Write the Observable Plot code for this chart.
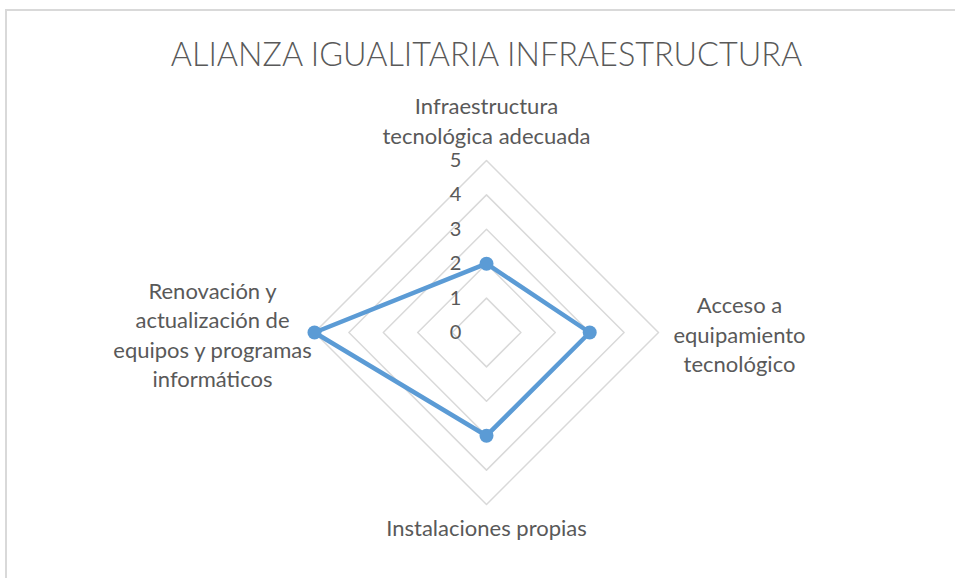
<!DOCTYPE html>
<html>
<head>
<meta charset="utf-8">
<script src="https://cdn.jsdelivr.net/npm/d3@7"></script>
<script src="https://cdn.jsdelivr.net/npm/@observablehq/plot@0.6"></script>
<style>
  html, body { margin: 0; padding: 0; background: #fff; }
  #wrap { position: relative; width: 955px; height: 578px; overflow: hidden; }
  #border { position: absolute; left: 5px; top: 9px; width: 1200px; height: 800px;
            border-left: 2px solid #d9d9d9; border-top: 2px solid #d9d9d9; }
  #chart { position: absolute; left: 0; top: 0; }
</style>
</head>
<body>
<div id="wrap"><div id="border"></div><div id="chart"></div></div>
<script>
const title = "ALIANZA IGUALITARIA INFRAESTRUCTURA";
const categories = [
  "Infraestructura\ntecnológica adecuada",
  "Acceso a\nequipamiento\ntecnológico",
  "Instalaciones propias",
  "Renovación y\nactualización de\nequipos y programas\ninformáticos"
];
const values = [2, 3, 3, 5];
const ticks = [0, 1, 2, 3, 4, 5];
const maxValue = 5;

const W = 955, H = 578;
const cx = 486, cy = 332, unit = 34.4;   // layout of the plot area in pixels

const n = categories.length;
const angle = i => (2 * Math.PI * i) / n; // 0 = top, clockwise
const px = (i, r) => r * Math.sin(angle(i));
const py = (i, r) => r * Math.cos(angle(i));

// grid rings (levels 1..5), closed polygons
const rings = [];
for (const t of ticks.filter(t => t > 0)) {
  for (let i = 0; i <= n; i++) rings.push({level: t, x: px(i % n, t), y: py(i % n, t)});
}
const series = values.map((v, i) => ({cat: categories[i], x: px(i, v), y: py(i, v)}));
const seriesClosed = [...series, series[0]];
const tickData = ticks.map(t => ({t, x: 0, y: t}));
const labelData = categories.map((c, i) => ({c, i, x: px(i, maxValue), y: py(i, maxValue)}));

const font = "Lato, 'Open Sans', sans-serif";
const gray = "#595959";

const labelOpts = [
  {dx: 0, dy: -17, lineAnchor: "bottom"},
  {dx: 81, dy: 1, lineAnchor: "middle"},
  {dx: 0, dy: 11, lineAnchor: "top"},
  {dx: -102, dy: 1, lineAnchor: "middle"}
];

const plot = Plot.plot({
  width: W, height: H,
  margin: 0,
  x: {domain: [-cx / unit, (W - cx) / unit], axis: null},
  y: {domain: [(cy - H) / unit, cy / unit], axis: null},
  style: {fontFamily: font, background: "transparent", overflow: "visible"},
  marks: [
    Plot.line(rings, {x: "x", y: "y", z: "level", stroke: "#d9d9d9", strokeWidth: 1.5}),
    Plot.text(tickData, {x: "x", y: "y", text: d => String(d.t), dx: -31, fontSize: 20, fill: gray, textAnchor: "middle"}),
    Plot.line(seriesClosed, {x: "x", y: "y", stroke: "#5b9bd5", strokeWidth: 4.5, strokeLinejoin: "round"}),
    Plot.dot(series, {x: "x", y: "y", r: 7, fill: "#5b9bd5", stroke: "none"}),
    ...labelData.map((d, k) => Plot.text([d], {
      x: "x", y: "y", text: "c", fontSize: 22, fill: gray, lineHeight: 1.34,
      textAnchor: "middle", ...labelOpts[k]
    })),
    Plot.text([{x: 0, t: title}], {x: "x", text: "t", frameAnchor: "top", dy: 55, fontSize: 32.4, fill: gray, fontWeight: 300, lineAnchor: "middle"})
  ]
});
document.getElementById("chart").appendChild(plot);
</script>
</body>
</html>
